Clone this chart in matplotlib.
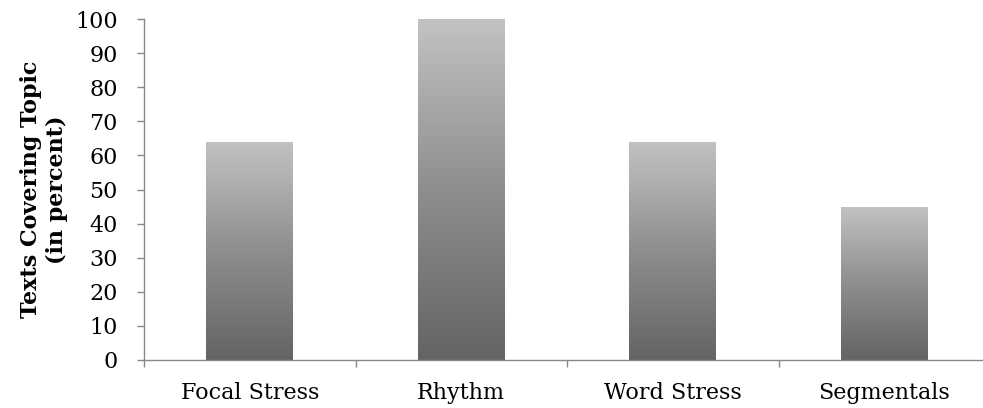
import numpy as np
import matplotlib
matplotlib.use("Agg")
import matplotlib.pyplot as plt
from matplotlib.colors import LinearSegmentedColormap

categories = ["Focal Stress", "Rhythm", "Word Stress", "Segmentals"]
values = [64, 100, 64, 45]
y_ticks = [0, 10, 20, 30, 40, 50, 60, 70, 80, 90, 100]
y_label = "Texts Covering Topic\n(in percent)"

plt.rcParams['font.family'] = ['DejaVu Serif']
fig = plt.figure(figsize=(9.83, 4.08), dpi=100)
ax = fig.add_axes([144/983, (408-360)/408, (990-144)/983, (360-19)/408])

cmap = LinearSegmentedColormap.from_list("g", [(0, "#646464"), (0.5, "#8e8e8e"), (1, "#c2c2c2")])
x = np.arange(len(categories))
bars = ax.bar(x, values, width=0.41, color="none", edgecolor="none")
grad = np.linspace(0, 1, 256).reshape(-1, 1)
for b in bars:
    x0, y0 = b.get_x(), b.get_y()
    w, h = b.get_width(), b.get_height()
    im = ax.imshow(grad, cmap=cmap, origin="lower", aspect="auto",
                   extent=[x0, x0 + w, y0, y0 + h], zorder=2)
    im.set_clip_path(b)

ax.set_xlim(-0.5, len(categories) - 0.5)
ax.set_ylim(0, 100)
ax.set_yticks(y_ticks)
ax.set_xticks(x)
ax.set_xticklabels(categories)
ax.set_xticks(np.arange(len(categories) + 1) - 0.5, minor=True)
ax.tick_params(axis="x", which="major", length=0, pad=16, labelsize=16)
ax.tick_params(axis="x", which="minor", length=5, color="#888888", width=1)
ax.tick_params(axis="y", length=5, color="#888888", width=1, labelsize=16, pad=14)
for s in ["top", "right"]:
    ax.spines[s].set_visible(False)
for s in ["left", "bottom"]:
    ax.spines[s].set_color("#888888")
    ax.spines[s].set_linewidth(1)
ax.set_ylabel(y_label, fontsize=16, fontweight="bold", linespacing=1.25)
ax.yaxis.set_label_coords(-(144 - 68) / (990 - 144), 0.5)

fig.savefig("out.png", dpi=100)
